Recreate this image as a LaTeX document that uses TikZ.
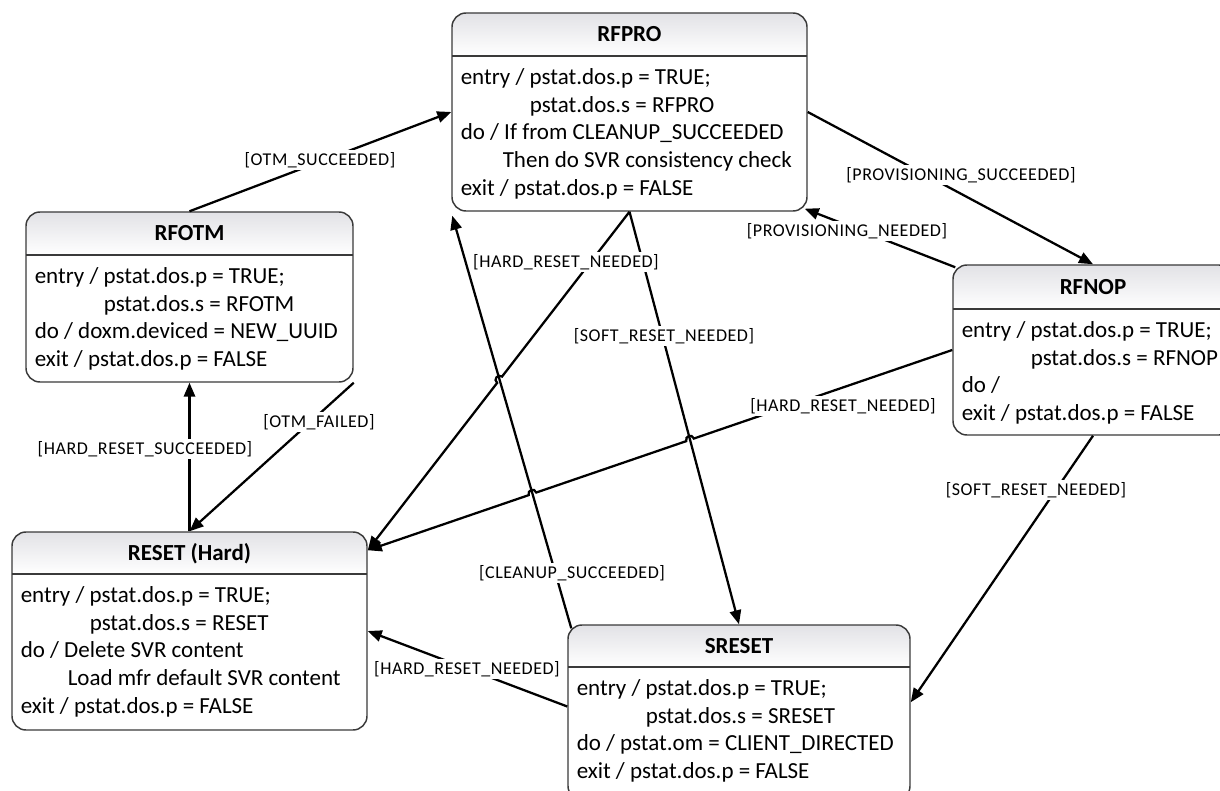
\documentclass[tikz,border=0pt]{standalone}
\usepackage{fontspec}
\setmainfont{Carlito}
\newfontfamily\lblfont[LetterSpace=3]{Carlito}
\usetikzlibrary{arrows.meta,fit,calc,intersections}
\definecolor{hdrgray}{HTML}{E2E2E6}
\definecolor{bordergray}{HTML}{3A3A3A}
% #1 name, #2 x1, #3 y1, #4 x2, #5 y2, #6 header line y, #7 title, #8 body
\newcommand\umlstate[8]{%
  \begin{scope}
    \clip[rounded corners=10.5pt] (#2,#3) rectangle (#4,#5);
    \fill[white] (#2,#3) rectangle (#4,#5);
    \shade[top color=hdrgray, bottom color=white] (#2,#3) rectangle (#4,#6);
  \end{scope}
  \node[statebox, fit={(#2,#3) (#4,#5)}] (#1) {};
  \draw[sepline] (#2,#6) -- (#4,#6);
  \node[titletext, anchor=base] (#1-title) at ({(#2+#4)/2},{(#3+#6)/2+7.5}) {#7};
  \node[bodytext, anchor=base west] (#1-body) at ({#2+8.5},{#6+28.5})
    {\begin{tabular}[t]{@{}l@{}}#8\end{tabular}};
}
\begin{document}
\begin{tikzpicture}[x=0.75pt,y=-0.75pt,
  statebox/.style={draw=bordergray, line width=1.1pt, rounded corners=10.5pt, inner sep=0pt},
  sepline/.style={draw=bordergray, line width=1.1pt},
  titletext/.style={font=\fontsize{17.25pt}{20.8pt}\selectfont\bfseries, inner sep=0pt},
  bodytext/.style={font=\fontsize{17.25pt}{20.8pt}\selectfont, inner sep=0pt},
  trans/.style={draw=black, line width=1.7pt, -{Triangle[length=10.5pt,width=8.5pt]}},
  guard/.style={font=\lblfont\fontsize{13.5pt}{15pt}\selectfont, fill=white, inner sep=1.5pt},
  jump/.style={bend right=90, looseness=1.7}
]
\useasboundingbox (0,0) rectangle (1220,791);
\clip (0,0) rectangle (1220,791);

\umlstate{rfpro}{452}{13}{807}{211}{56}{RFPRO}{%
entry / pstat.dos.p = TRUE;\\
\hspace*{51.75pt}pstat.dos.s = RFPRO\\
do / If from CLEANUP\_SUCCEEDED\\
\hspace*{31.5pt}Then do SVR consistency check\\
exit / pstat.dos.p = FALSE}

\umlstate{rfotm}{26}{212}{353}{382}{255}{RFOTM}{%
entry / pstat.dos.p = TRUE;\\
\hspace*{51.75pt}pstat.dos.s = RFOTM\\
do / doxm.deviced = NEW\_UUID\\
exit / pstat.dos.p = FALSE}

\umlstate{rfnop}{953}{265}{1233}{435}{309}{RFNOP}{%
entry / pstat.dos.p = TRUE;\\
\hspace*{51.75pt}pstat.dos.s = RFNOP\\
do /\\
exit / pstat.dos.p = FALSE}

\umlstate{reset}{12}{532}{367}{730}{574}{RESET (Hard)}{%
entry / pstat.dos.p = TRUE;\\
\hspace*{51.75pt}pstat.dos.s = RESET\\
do / Delete SVR content\\
\hspace*{35.25pt}Load mfr default SVR content\\
exit / pstat.dos.p = FALSE}

\umlstate{sreset}{568}{625}{910}{800}{667}{SRESET}{%
entry / pstat.dos.p = TRUE;\\
\hspace*{51.75pt}pstat.dos.s = SRESET\\
do / pstat.om = CLIENT\_DIRECTED\\
exit / pstat.dos.p = FALSE}

% end points on the boxes
\coordinate (e3s) at ($(rfnop.north west)+(3,3)$);
\coordinate (e3e) at ($(rfpro.south east)+(-3,-3)$);
\coordinate (e4e) at ($(reset.north east)+(0,19)$);
\coordinate (e5e) at ($(sreset.north east)+(0,78)$);
\coordinate (e8s) at ($(sreset.north west)+(4,4)$);
\coordinate (e8e) at ($(rfpro.south west)+(1,4)$);
\coordinate (e9s) at ($(sreset.west)+(0,-6)$);

% paths used to find crossings
\path[name path=p7] (rfpro.south) -- (sreset.north);
\path[name path=p8] (e8s) -- (e8e);
\path[name path=p4] (rfnop.west) -- (e4e);
\path[name path=p6] (rfpro.south) -- (e4e);
\path[name intersections={of=p4 and p7, by=j47}];
\path[name intersections={of=p4 and p8, by=j48}];
\path[name intersections={of=p6 and p8, by=j68}];

% transitions
\draw[trans] (rfotm.north) -- (rfpro.west);
\draw[trans] (rfpro.east) -- (rfnop.north);
\draw[trans] (e3s) -- (e3e);
\draw[trans] (rfnop.south) -- (e5e);
\draw[trans] (rfpro.south) -- (sreset.north);
\draw[trans] (e8s) -- (e8e);
\draw[trans] (e9s) -- (reset.east);
\draw[trans] (rfotm.south east) -- (reset.north);
\draw[trans] (reset.north) -- (rfotm.south);
\draw[trans] (rfpro.south) -- ($(j68)!3pt!(rfpro.south)$) to[jump] ($(j68)!3pt!(e4e)$) -- (e4e);
\draw[trans] (rfnop.west) -- ($(j47)!3pt!(rfnop.west)$) to[jump] ($(j47)!3pt!(e4e)$)
  -- ($(j48)!3pt!(rfnop.west)$) to[jump] ($(j48)!3pt!(e4e)$) -- (e4e);

% guards
\node[guard] (g1) at (320,160) {[OTM\_SUCCEEDED]};
\node[guard] (g2) at (961,175) {[PROVISIONING\_SUCCEEDED]};
\node[guard] (g3) at (847,231) {[PROVISIONING\_NEEDED]};
\node[guard] (g4) at (566,262) {[HARD\_RESET\_NEEDED]};
\node[guard] (g5) at (664,336) {[SOFT\_RESET\_NEEDED]};
\node[guard] (g6) at (843,406) {[HARD\_RESET\_NEEDED]};
\node[guard] (g7) at (1036,490) {[SOFT\_RESET\_NEEDED]};
\node[guard] (g8) at (572,573) {[CLEANUP\_SUCCEEDED]};
\node[guard] (g9) at (467,669) {[HARD\_RESET\_NEEDED]};
\node[guard] (g10) at (319,422) {[OTM\_FAILED]};
\node[guard] (g11) at (145,449) {[HARD\_RESET\_SUCCEEDED]};
\end{tikzpicture}
\end{document}
